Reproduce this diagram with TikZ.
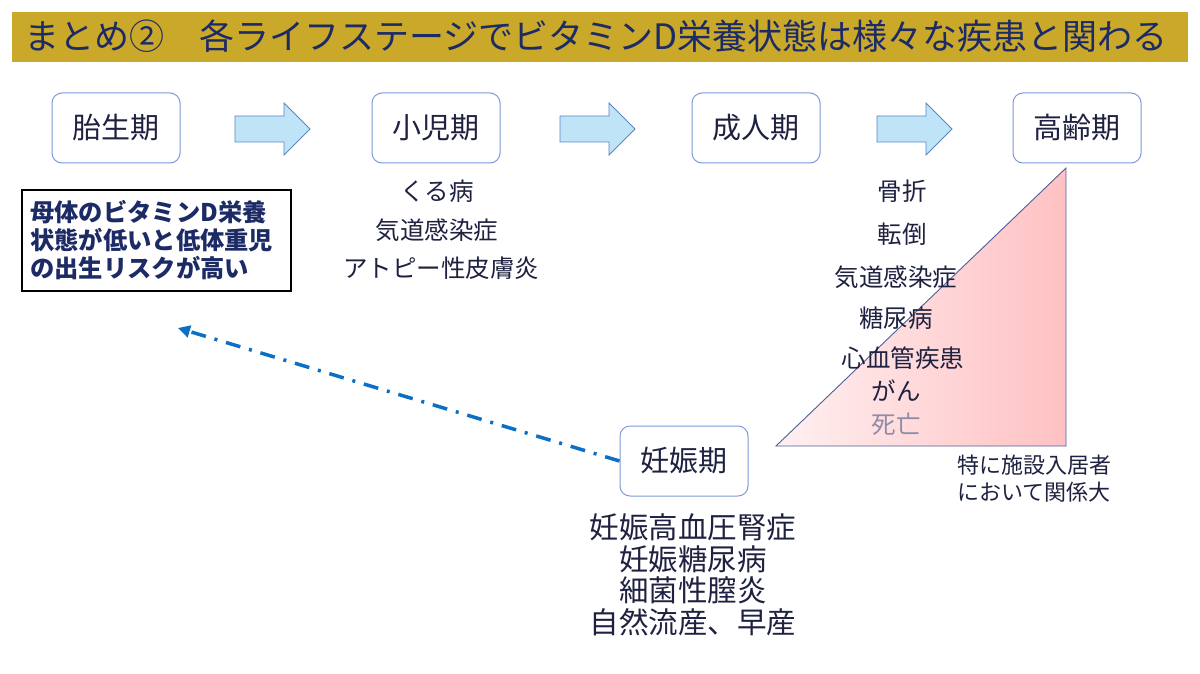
\documentclass[tikz,border=0pt]{standalone}
\usepackage{fontspec}
\setmainfont{Noto Sans CJK JP}
\usetikzlibrary{arrows.meta}
\definecolor{gold}{HTML}{C9A82A}
\definecolor{navy}{HTML}{1C2A66}
\definecolor{ink}{HTML}{1E2240}
\definecolor{boxline}{HTML}{7D9BD6}
\definecolor{arrfill}{HTML}{BFE4F8}
\definecolor{arrline}{HTML}{5A86C4}
\definecolor{pinkR}{HTML}{FFC1C3}
\definecolor{pinkL}{HTML}{FFF0F1}
\definecolor{triline}{HTML}{4F5E96}
\definecolor{dashblue}{HTML}{0B6FC6}
\definecolor{greytx}{HTML}{8E8CA6}
\tikzset{
  stage/.style={draw=boxline, line width=1pt, rounded corners=10pt, minimum width=128pt, minimum height=70pt, text=ink, font=\fontsize{29}{32}\selectfont, inner sep=0pt},
  bigarrow/.style={draw=arrline, fill=arrfill, line width=0.8pt, line join=miter},
  lst/.style={text=ink, font=\fontsize{24.5}{28}\selectfont, inner sep=0pt},
  plst/.style={text=ink, font=\fontsize{29.5}{31.5}\selectfont, align=center, inner sep=0pt},
}
\newcommand{\blockarrow}[2]{% #1 = left x, #2 = name
  \draw[bigarrow] (#1,116) -- ++(49,0) -- ++(0,-13) -- ++(26,26) -- ++(-26,26) -- ++(0,-13) -- ++(-49,0) -- cycle;
  \coordinate (#2) at (#1+37,129);
}
\begin{document}
\begin{tikzpicture}[x=1pt,y=-1pt]
\useasboundingbox (0,0) rectangle (1200,674);
\fill[white] (0,0) rectangle (1200,674);
% title
\fill[gold] (12,12) rectangle (1188,62);
\node[anchor=west, text=navy, font=\fontsize{35}{38}\selectfont, inner sep=0pt] (title) at (24,36) {まとめ②\hspace{1em}各ライフステージでビタミンD栄養状態は様々な疾患と関わる};
% stages
\node[stage] (s1) at (116,128) {胎生期};
\node[stage] (s2) at (436,128) {小児期};
\node[stage] (s3) at (756,128) {成人期};
\node[stage] (s4) at (1077,128) {高齢期};
\node[stage] (s5) at (684,461) {妊娠期};
% block arrows
\blockarrow{235}{a1}
\blockarrow{560}{a2}
\blockarrow{877}{a3}
% left box
\node[draw=black, line width=1.2pt, minimum width=269pt, minimum height=101pt, inner sep=0pt] (lb) at (156.5,240.5) {};
\node[anchor=west, text=navy, font=\bfseries\fontsize{24.3}{28}\selectfont, align=left, inner sep=0pt] (lbt) at (30,240) {母体のビタミンD栄養\\状態が低いと低体重児\\の出生リスクが高い};
% child list
\node[lst] (c1) at (437,191) {くる病};
\node[lst] (c2) at (437,230) {気道感染症};
\node[lst] (c3) at (441,268) {アトピー性皮膚炎};
% triangle
\coordinate (tA) at (776,446);
\coordinate (tB) at (1066,446);
\coordinate (tC) at (1066,168);
\shade[left color=pinkL, right color=pinkR] (tA) -- (tB) -- (tC) -- cycle;
\draw[triline, line width=0.9pt, line join=miter] (tA) -- (tB) -- (tC) -- cycle;
% elderly list
\node[lst] (e1) at (902,191) {骨折};
\node[lst] (e2) at (902,234) {転倒};
\node[lst] (e3) at (896,277) {気道感染症};
\node[lst] (e4) at (896,318) {糖尿病};
\node[lst] (e5) at (903,358) {心血管疾患};
\node[lst] (e6) at (896,391) {がん};
\node[lst, text=greytx] (e7) at (896,424) {死亡};
\node[text=ink, font=\fontsize{22}{27}\selectfont, align=left, inner sep=0pt] (note) at (1034,479) {特に施設入居者\\において関係大};
% pregnancy list
\node[plst] (p1) at (693,575) {妊娠高血圧腎症\\妊娠糖尿病\\細菌性膣炎\\自然流産、早産};
% dash-dot arrow
\coordinate (dend) at (178,328);
\draw[dashblue, line width=3.5pt, dash pattern=on 15pt off 9pt on 3pt off 9pt, -{Triangle[length=12pt,width=12pt]}] (s5.west) -- (dend);
\end{tikzpicture}
\end{document}
